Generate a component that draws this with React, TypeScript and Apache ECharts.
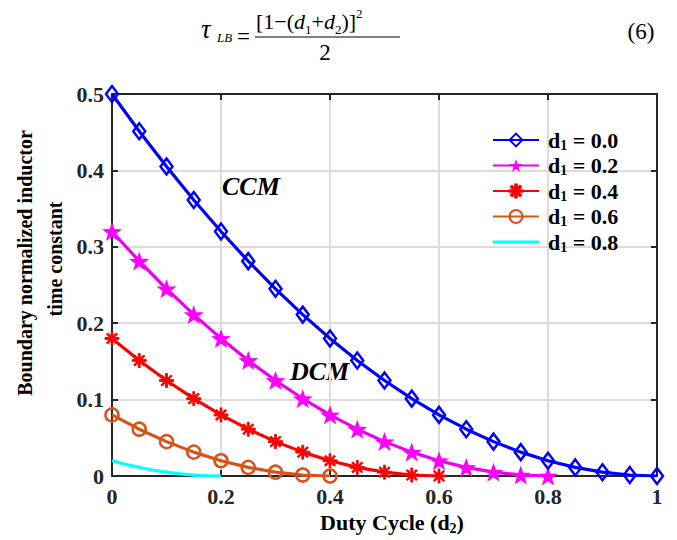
import React, { useEffect, useRef } from "react";
import * as echarts from "echarts";

const D2 = [0, 0.05, 0.1, 0.15, 0.2, 0.25, 0.3, 0.35, 0.4, 0.45, 0.5, 0.55, 0.6, 0.65, 0.7, 0.75, 0.8, 0.85, 0.9, 0.95, 1];
const TAU_D1_00 = [0.5, 0.45125, 0.405, 0.36125, 0.32, 0.28125, 0.245, 0.21125, 0.18, 0.15125, 0.125, 0.10125, 0.08, 0.06125, 0.045, 0.03125, 0.02, 0.01125, 0.005, 0.00125, 0];
const TAU_D1_02 = [0.32, 0.28125, 0.245, 0.21125, 0.18, 0.15125, 0.125, 0.10125, 0.08, 0.06125, 0.045, 0.03125, 0.02, 0.01125, 0.005, 0.00125, 0];
const TAU_D1_04 = [0.18, 0.15125, 0.125, 0.10125, 0.08, 0.06125, 0.045, 0.03125, 0.02, 0.01125, 0.005, 0.00125, 0];
const TAU_D1_06 = [0.08, 0.06125, 0.045, 0.03125, 0.02, 0.01125, 0.005, 0.00125, 0];
const TAU_D1_08 = [0.02, 0.01125, 0.005, 0.00125, 0];
const SERIES_NAMES = ["d1 = 0.0", "d1 = 0.2", "d1 = 0.4", "d1 = 0.6", "d1 = 0.8"];
const LEGEND_VALUES = ["0.0", "0.2", "0.4", "0.6", "0.8"];

const SERIF = "'Liberation Serif', 'Times New Roman', serif";
const STAR = "path://M0,-10 L2.35,-3.24 L9.51,-3.09 L3.8,1.24 L5.88,8.09 L0,4 L-5.88,8.09 L-3.8,1.24 L-9.51,-3.09 L-2.35,-3.24 Z";
const ASTERISK =
  "path://M-1.3,-10 L1.3,-10 L1.3,10 L-1.3,10 Z M-10,-1.3 L10,-1.3 L10,1.3 L-10,1.3 Z M-6.22,-7.92 L7.92,6.22 L6.22,7.92 L-7.92,-6.22 Z M-7.92,6.22 L6.22,-7.92 L7.92,-6.22 L-6.22,7.92 Z";
const LINE_ICON = "path://M0,0 L46,0 L46,3 L0,3 Z";

const zip = (ys: number[]) => ys.map((y, i) => [D2[i], y]);

export default function App() {
  const ref = useRef<HTMLDivElement>(null);
  useEffect(() => {
    if (!ref.current) return;
    const chart = echarts.init(ref.current, null, { renderer: "svg" });
    const axisLine = { show: true, onZero: false, lineStyle: { color: "#262626", width: 2 } };
    const axisTick = { show: true, inside: true, length: 6, lineStyle: { color: "#262626", width: 2 } };
    const labelStyle = { fontFamily: SERIF, fontWeight: "bold" as const, fontSize: 22, color: "#262626" };
    const splitLine = { show: true, lineStyle: { color: "#dcdcdc", width: 2 } };
    const lw = 3.2;
    chart.setOption({
      animation: false,
      backgroundColor: "#ffffff",
      grid: { left: 112, right: 20, top: 94, bottom: 64, containLabel: false },
      xAxis: [
        {
          type: "value", min: 0, max: 1, interval: 0.2, position: "bottom",
          axisLine, axisTick, splitLine,
          axisLabel: { ...labelStyle, margin: 9 },
        },
        {
          type: "value", min: 0, max: 1, interval: 0.2, position: "top",
          axisLine, axisTick, splitLine: { show: false }, axisLabel: { show: false },
        },
      ],
      yAxis: [
        {
          type: "value", min: 0, max: 0.5, interval: 0.1, position: "left",
          axisLine, axisTick, splitLine,
          axisLabel: { ...labelStyle, margin: 8 },
        },
        {
          type: "value", min: 0, max: 0.5, interval: 0.1, position: "right",
          axisLine, axisTick, splitLine: { show: false }, axisLabel: { show: false },
        },
      ],
      legend: {
        orient: "vertical",
        left: 492,
        top: 129,
        itemWidth: 46,
        itemHeight: 16,
        itemGap: 2.5,
        padding: 0,
        data: [
          { name: SERIES_NAMES[0] },
          { name: SERIES_NAMES[1] },
          { name: SERIES_NAMES[2] },
          { name: SERIES_NAMES[3] },
          { name: SERIES_NAMES[4], icon: LINE_ICON },
        ],
        formatter: (name: string) => {
          const i = SERIES_NAMES.indexOf(name);
          return `{g|}{b|d}{s|1}{b| = ${LEGEND_VALUES[i]}}`;
        },
        textStyle: {
          fontFamily: SERIF,
          fontWeight: "bold",
          fontSize: 22,
          color: "#000",
          rich: {
            g: { width: 4, lineHeight: 24 },
            b: { fontFamily: SERIF, fontWeight: "bold", fontSize: 22, color: "#000", lineHeight: 24 },
            s: { fontFamily: SERIF, fontWeight: "bold", fontSize: 14, color: "#000", lineHeight: 24, verticalAlign: "bottom" },
          },
        },
      },
      series: [
        {
          name: SERIES_NAMES[0], type: "line", data: zip(TAU_D1_00),
          color: "#0000ff",
          lineStyle: { color: "#0000ff", width: lw },
          symbol: "diamond", symbolSize: [12, 16],
          itemStyle: { color: "rgba(0,0,0,0)", borderColor: "#0000ff", borderWidth: 2.5 },
          z: 5,
        },
        {
          name: SERIES_NAMES[1], type: "line", data: zip(TAU_D1_02),
          color: "#ff00ff",
          lineStyle: { color: "#ee00ee", width: lw },
          symbol: STAR, symbolSize: 20, symbolKeepAspect: true,
          itemStyle: { color: "#ff00ff", borderWidth: 0 },
          z: 4,
        },
        {
          name: SERIES_NAMES[2], type: "line", data: zip(TAU_D1_04),
          color: "#ff0000",
          lineStyle: { color: "#ff0000", width: lw },
          symbol: ASTERISK, symbolSize: 14, symbolKeepAspect: true,
          itemStyle: { color: "#ff0000", borderColor: "#ff0000", borderWidth: 1 },
          z: 3,
        },
        {
          name: SERIES_NAMES[3], type: "line", data: zip(TAU_D1_06),
          color: "#d95319",
          lineStyle: { color: "#d95319", width: lw },
          symbol: "circle", symbolSize: 13,
          itemStyle: { color: "rgba(0,0,0,0)", borderColor: "#d95319", borderWidth: 2.5 },
          z: 2,
        },
        {
          name: SERIES_NAMES[4], type: "line", data: zip(TAU_D1_08),
          color: "#00ffff",
          lineStyle: { color: "#00ffff", width: lw },
          symbol: "none", smooth: true, showSymbol: false,
          z: 1,
        },
      ],
      graphic: [
        // equation
        { type: "text", x: 201, y: 29, style: { text: "τ", font: `italic 27px ${SERIF}`, fill: "#000", verticalAlign: "middle" } },
        { type: "text", x: 217, y: 37, style: { text: "LB", font: `italic 13px ${SERIF}`, fill: "#000", verticalAlign: "middle" } },
        { type: "text", x: 237, y: 36, style: { text: "=", font: `23px ${SERIF}`, fill: "#000", verticalAlign: "middle" } },
        {
          type: "text", x: 256, y: 7,
          style: {
            text: "{n|[1−(}{i|d}{s|1}{n|+}{i|d}{s|2}{n|)]}{p|2}",
            rich: {
              n: { font: `22px ${SERIF}`, fill: "#000", lineHeight: 29 },
              i: { font: `italic 22px ${SERIF}`, fill: "#000", lineHeight: 29 },
              s: { font: `13px ${SERIF}`, fill: "#000", lineHeight: 29, verticalAlign: "bottom" },
              p: { font: `13px ${SERIF}`, fill: "#000", lineHeight: 29, verticalAlign: "top" },
            },
          },
        },
        { type: "line", shape: { x1: 255, y1: 37, x2: 400, y2: 37 }, style: { stroke: "#000", lineWidth: 1.2 } },
        { type: "text", x: 325, y: 52, style: { text: "2", font: `23px ${SERIF}`, fill: "#000", align: "center", verticalAlign: "middle" } },
        { type: "text", x: 641, y: 31, style: { text: "(6)", font: `23px ${SERIF}`, fill: "#000", align: "center", verticalAlign: "middle" } },
        // annotations
        { type: "text", x: 222, y: 186, style: { text: "CCM", font: `italic bold 26px ${SERIF}`, fill: "#000", verticalAlign: "middle" } },
        { type: "text", x: 290, y: 371, style: { text: "DCM", font: `italic bold 26px ${SERIF}`, fill: "#000", verticalAlign: "middle" } },
        // y axis title
        {
          type: "text", x: 25, y: 263, rotation: Math.PI / 2,
          style: { text: "Boundary normalized inductor", font: `bold 20px ${SERIF}`, fill: "#000", align: "center", verticalAlign: "middle" },
        },
        {
          type: "text", x: 55, y: 259, rotation: Math.PI / 2,
          style: { text: "time constant", font: `bold 20px ${SERIF}`, fill: "#000", align: "center", verticalAlign: "middle" },
        },
        // x axis title
        {
          type: "text", x: 392, y: 522,
          style: {
            text: "{b|Duty Cycle (d}{s|2}{b|)}",
            align: "center", verticalAlign: "middle",
            rich: {
              b: { font: `bold 22px ${SERIF}`, fill: "#000", lineHeight: 26 },
              s: { font: `bold 14px ${SERIF}`, fill: "#000", lineHeight: 26, verticalAlign: "bottom" },
            },
          },
        },
      ],
    });
    return () => chart.dispose();
  }, []);
  return <div ref={ref} style={{ position: "fixed", left: 0, top: 0, width: 677, height: 540 }} />;
}
